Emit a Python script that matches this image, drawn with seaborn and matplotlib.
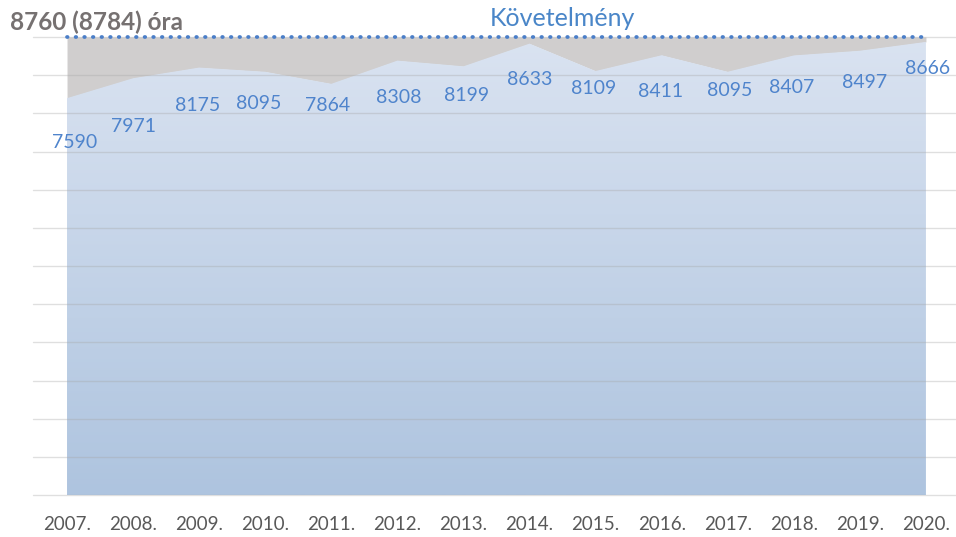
import numpy as np
import pandas as pd
import matplotlib
matplotlib.use('Agg')
import matplotlib.pyplot as plt
from matplotlib.colors import LinearSegmentedColormap
import seaborn as sns

# Data
years = ['2007.', '2008.', '2009.', '2010.', '2011.', '2012.', '2013.',
         '2014.', '2015.', '2016.', '2017.', '2018.', '2019.', '2020.']
hours = [7590, 7971, 8175, 8095, 7864, 8308, 8199,
         8633, 8109, 8411, 8095, 8407, 8497, 8666]
requirement = 8760
grid_step = 730

# label nudges (pixels) so the numbers sit roughly where they are in the original
label_dx = [8, 0, -2, -7, -4, 1, 3, 0, -2, -1, 2, -2, 5, 2]
label_dy = [44, 48, 38, 32, 22, 37, 29, 36, 17, 36, 19, 32, 32, 27]

df = pd.DataFrame({'year': years, 'hours': hours})
df['pos'] = np.arange(len(df))

sns.set_theme(style='white')
plt.rcParams['font.family'] = ['Lato', 'DejaVu Sans']

fig = plt.figure(figsize=(9.56, 5.37), dpi=100)
ax = fig.add_axes([33 / 956, 1 - 495 / 537, 922 / 956, 458 / 537])

# gray gap between achieved hours and the requirement
ax.fill_between(df['pos'], df['hours'], requirement, color='#D0CECE', lw=0, zorder=1)

# blue gradient area under the series
area = ax.fill_between(df['pos'], 0, df['hours'], facecolor='none', lw=0, zorder=2)
cmap = LinearSegmentedColormap.from_list('fade', ['#AEC4DF', '#DAE3F1'])
grad = np.linspace(0, 1, 256).reshape(-1, 1)
im = ax.imshow(grad, cmap=cmap, origin='lower', aspect='auto',
               extent=[df['pos'].min(), df['pos'].max(), 0, requirement], zorder=2)
im.set_clip_path(area.get_paths()[0], transform=ax.transData)

# requirement dotted line (sits on the top edge, so don't clip it)
n_before = len(ax.lines)
sns.lineplot(x=df['pos'], y=[requirement] * len(df), ax=ax, color='#4A7EC8', zorder=4)
req_line = ax.lines[n_before]
req_line.set_linewidth(2.7)
req_line.set_linestyle((0, (0.15, 2.15)))
req_line.set_dash_capstyle('round')
req_line.set_clip_on(False)
req_line.set_zorder(4)

# data labels
for i, row in df.iterrows():
    ax.annotate(str(row['hours']), (row['pos'], row['hours']),
                xytext=(label_dx[i], -label_dy[i]), textcoords='offset pixels',
                ha='center', va='center', color='#4F84CC', fontsize=14, zorder=5)

ax.set_xlim(-0.515, 13.44)
ax.set_ylim(0, requirement)
ax.set_yticks(np.arange(0, requirement + 1, grid_step))
ax.set_yticklabels([])
ax.yaxis.grid(True, color='#A6A6A6', alpha=0.35, lw=1)
for gl in ax.get_ygridlines():
    gl.set_clip_on(False)
ax.set_axisbelow(False)
ax.set_xticks(df['pos'])
ax.set_xticklabels(df['year'], color='#595959', fontsize=13.5)
ax.tick_params(axis='x', length=0, pad=15)
ax.tick_params(axis='y', length=0)
ax.set_xlabel('')
ax.set_ylabel('')
for s in ax.spines.values():
    s.set_visible(False)

fig.text(10 / 956, 1 - 22 / 537, '8760 (8784) óra', ha='left', va='center',
         fontsize=17.5, fontweight='bold', color='#767171')
fig.text(562 / 956, 1 - 18 / 537, 'Követelmény', ha='center', va='center',
         fontsize=18, color='#4A86C8')

fig.savefig('out.png', dpi=100)
